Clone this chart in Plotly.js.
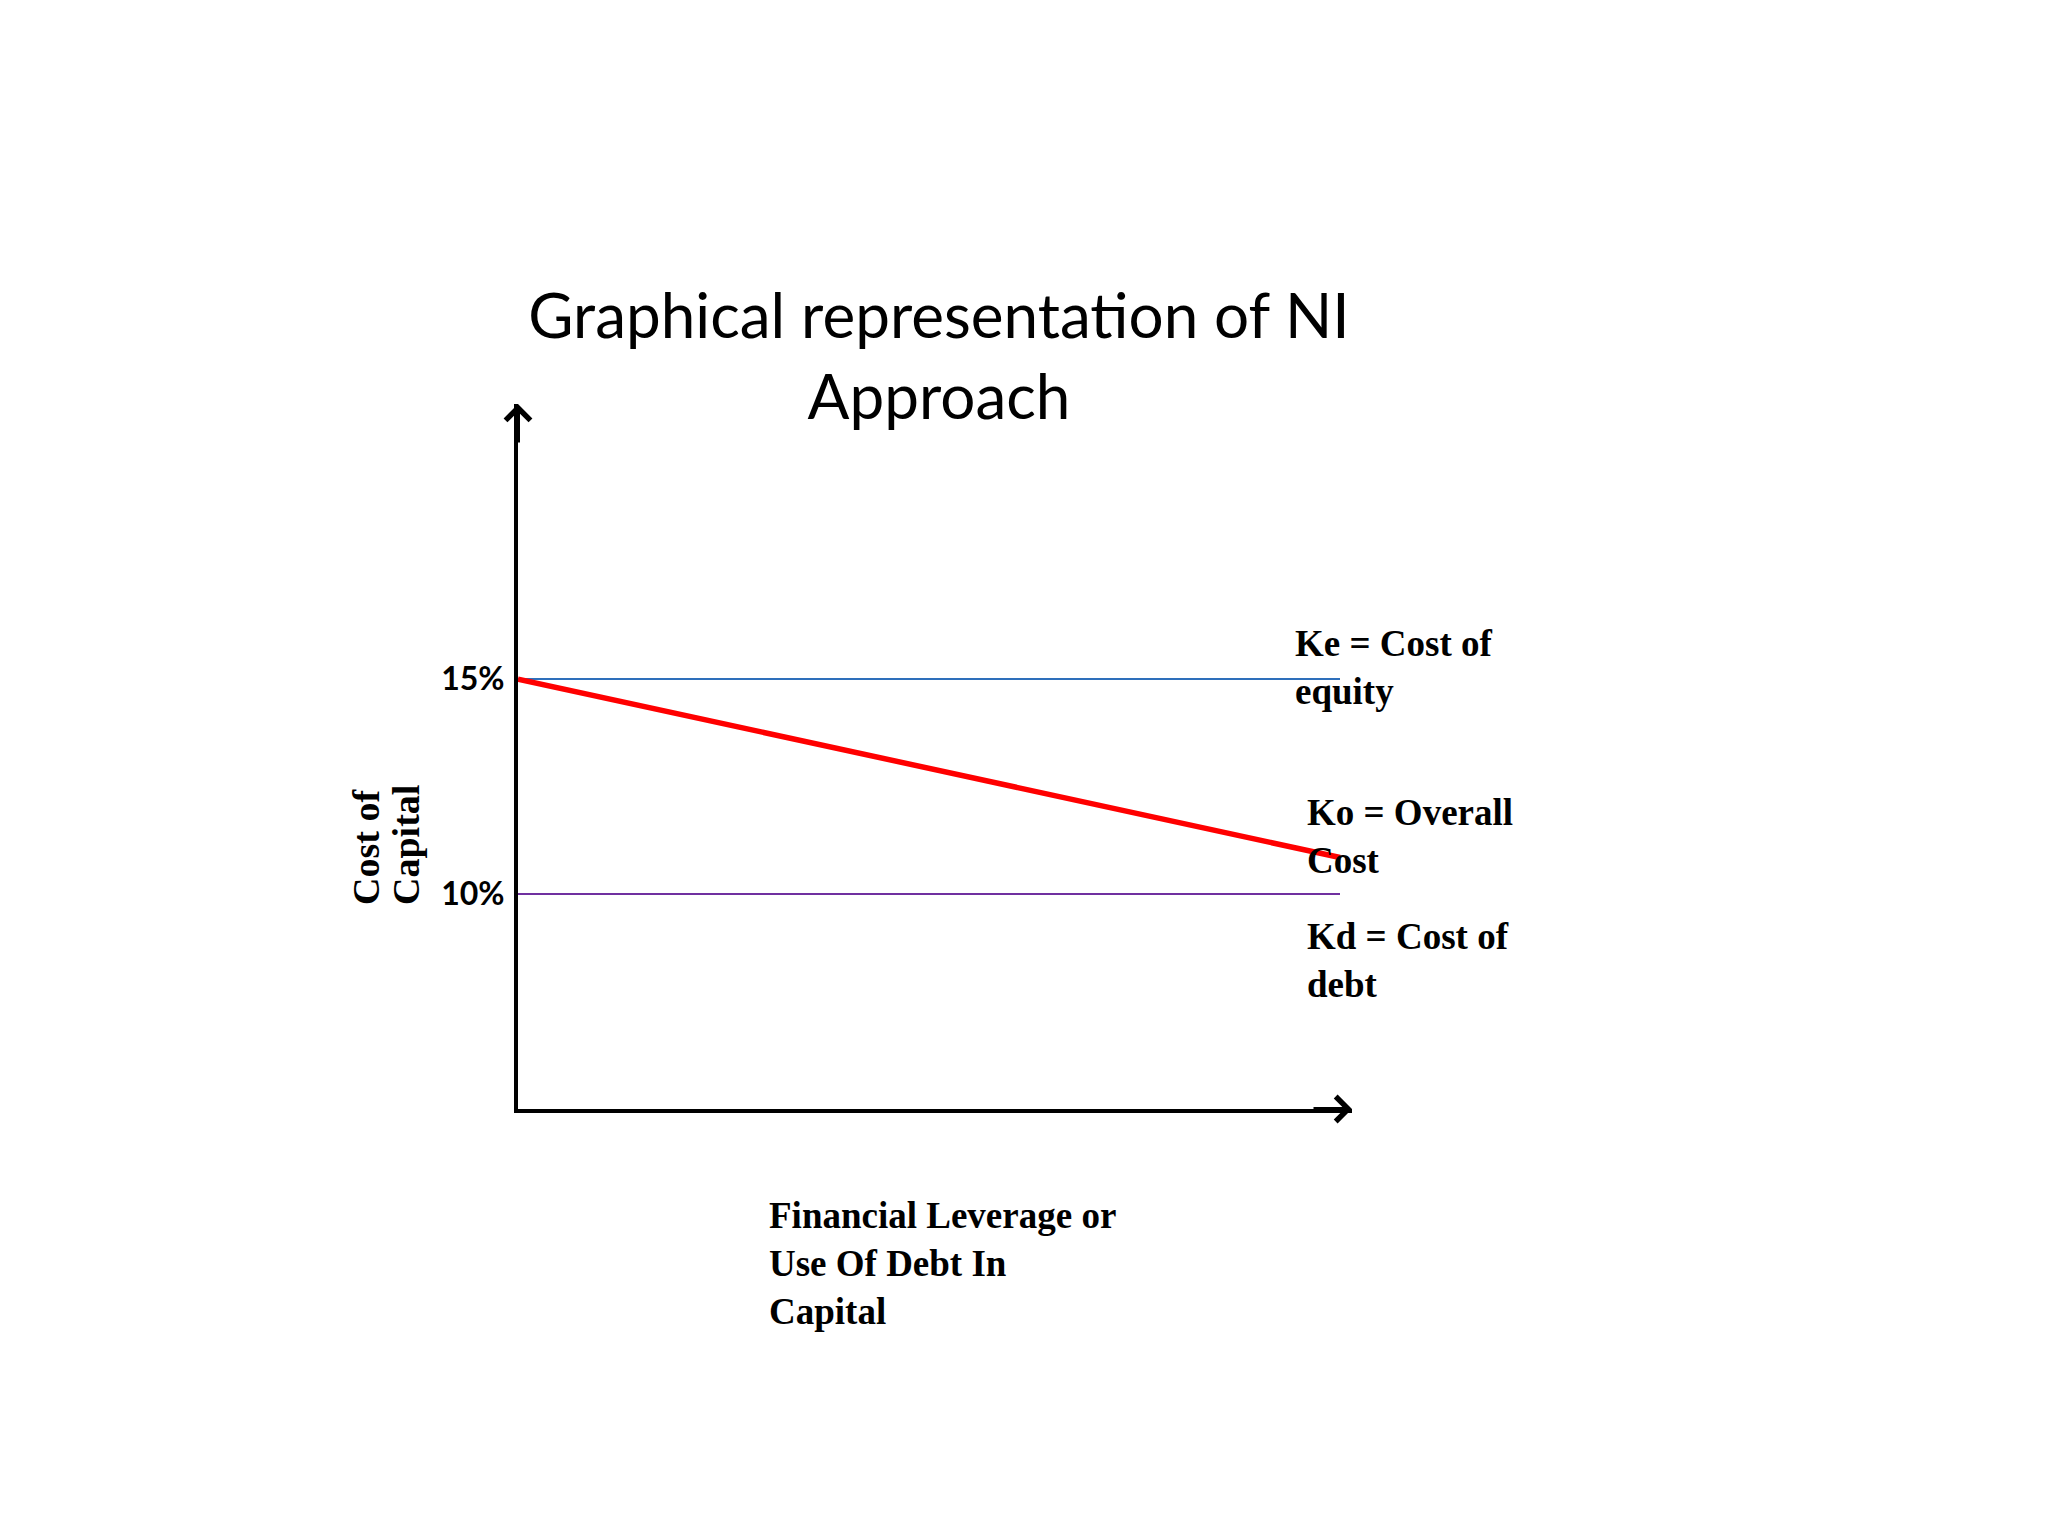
<!DOCTYPE html>
<html>
<head>
<meta charset="utf-8">
<script src="https://cdn.plot.ly/plotly-3.0.1.min.js"></script>
<style>
  html, body { margin: 0; padding: 0; background: #ffffff; }
  #chart { width: 2048px; height: 1536px; }
</style>
</head>
<body>
<div id="chart"></div>
<script>
// ---- Data ----
const leverage = [0, 100];          // financial leverage (start, end of the drawn lines)
const keValues = [15, 15];          // Ke = Cost of equity (%)
const koValues = [15, 10.85];       // Ko = Overall cost (%)
const kdValues = [10, 10];          // Kd = Cost of debt (%)
const yTickVals = [15, 10];
const yTickText = ['15%', '10%'];

const titleText = 'Graphical representation of NI<br>Approach';
const xTitleText = 'Financial Leverage or<br>Use Of Debt In<br>Capital';
const yTitleLines = ['Cost of', 'Capital'];
const keLabel = 'Ke = Cost of<br>equity';
const koLabel = 'Ko = Overall<br>Cost';
const kdLabel = 'Kd = Cost of<br>debt';

const serif = 'Liberation Serif, Times New Roman, serif';
const sans = 'Lato, Carlito, Calibri, sans-serif';

const traces = [
  { x: leverage, y: keValues, mode: 'lines', name: 'Ke',
    line: { color: '#2e6fbb', width: 2 } },
  { x: leverage, y: kdValues, mode: 'lines', name: 'Kd',
    line: { color: '#7030a0', width: 2 } },
  { x: leverage, y: koValues, mode: 'lines', name: 'Ko',
    line: { color: '#ff0000', width: 5.5 } }
];

const labelFont = { family: serif, size: 37, color: '#000000', weight: 'bold' };

const layout = {
  width: 2048,
  height: 1536,
  paper_bgcolor: '#ffffff',
  plot_bgcolor: '#ffffff',
  showlegend: false,
  margin: { l: 518, r: 696, t: 404, b: 427, pad: 0 },
  title: {
    text: titleText,
    font: { family: sans, size: 62, color: '#000000' },
    xref: 'container', x: 939 / 2048, xanchor: 'center',
    yref: 'container', y: 1 - 338 / 1536, yanchor: 'middle'
  },
  xaxis: {
    range: [0, 101.46],
    showgrid: false, zeroline: false,
    showline: true, linecolor: '#000000', linewidth: 4,
    showticklabels: false, ticks: ''
  },
  yaxis: {
    range: [5, 21.4],
    showgrid: false, zeroline: false,
    showline: true, linecolor: '#000000', linewidth: 4,
    tickvals: yTickVals, ticktext: yTickText, ticks: '',
    ticklabelstandoff: 3,
    tickfont: { family: sans, size: 32, color: '#000000', weight: 'bold' }
  },
  annotations: [
    // axis arrowheads
    { xref: 'paper', yref: 'paper', x: 1, y: 0, ax: -40, ay: 0, text: '',
      showarrow: true, arrowhead: 4, arrowsize: 1.2, arrowwidth: 4, arrowcolor: '#000000' },
    { xref: 'paper', yref: 'paper', x: 0, y: 1, ax: 0, ay: 40, text: '',
      showarrow: true, arrowhead: 4, arrowsize: 1.2, arrowwidth: 4, arrowcolor: '#000000' },
    // series labels
    { xref: 'paper', yref: 'paper', x: (1293 - 518) / 834, y: (1109 - 667) / 705,
      xanchor: 'left', yanchor: 'middle', align: 'left', showarrow: false,
      text: keLabel, font: labelFont },
    { xref: 'paper', yref: 'paper', x: (1305 - 518) / 834, y: (1109 - 836) / 705,
      xanchor: 'left', yanchor: 'middle', align: 'left', showarrow: false,
      text: koLabel, font: labelFont },
    { xref: 'paper', yref: 'paper', x: (1305 - 518) / 834, y: (1109 - 960) / 705,
      xanchor: 'left', yanchor: 'middle', align: 'left', showarrow: false,
      text: kdLabel, font: labelFont },
    // x axis title
    { xref: 'paper', yref: 'paper', x: (767 - 518) / 834, y: (1109 - 1263) / 705,
      xanchor: 'left', yanchor: 'middle', align: 'left', showarrow: false,
      text: xTitleText, font: labelFont },
    // y axis title (two rotated lines)
    { xref: 'paper', yref: 'paper', x: (366 - 518) / 834, y: (1109 - 907) / 705,
      xanchor: 'center', yanchor: 'bottom', textangle: -90, showarrow: false,
      text: yTitleLines[0], font: { family: serif, size: 38, color: '#000000', weight: 'bold' } },
    { xref: 'paper', yref: 'paper', x: (406 - 518) / 834, y: (1109 - 907) / 705,
      xanchor: 'center', yanchor: 'bottom', textangle: -90, showarrow: false,
      text: yTitleLines[1], font: { family: serif, size: 38, color: '#000000', weight: 'bold' } }
  ]
};

Plotly.newPlot('chart', traces, layout, { staticPlot: true, displayModeBar: false });
</script>
</body>
</html>
